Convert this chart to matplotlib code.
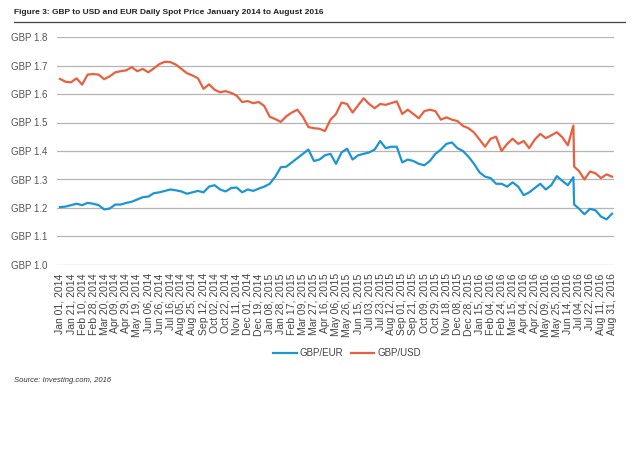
import numpy as np
import matplotlib
matplotlib.use("Agg")
import matplotlib.pyplot as plt

# category labels on the x axis (one every 14 trading days)
tick_labels = [
    "Jan 01, 2014", "Jan 21, 2014", "Feb 10, 2014", "Feb 28, 2014", "Mar 20, 2014",
    "Apr 09, 2014", "Apr 29, 2014", "May 19, 2014", "Jun 06, 2014", "Jun 26, 2014",
    "Jul 16, 2014", "Aug 05, 2014", "Aug 25, 2014", "Sep 12, 2014", "Oct 02, 2014",
    "Oct 22, 2014", "Nov 11, 2014", "Dec 01, 2014", "Dec 19, 2014", "Jan 08, 2015",
    "Jan 28, 2015", "Feb 17, 2015", "Mar 09, 2015", "Mar 27, 2015", "Apr 16, 2015",
    "May 06, 2015", "May 26, 2015", "Jun 15, 2015", "Jul 03, 2015", "Jul 23, 2015",
    "Aug 12, 2015", "Sep 01, 2015", "Sep 21, 2015", "Oct 09, 2015", "Oct 29, 2015",
    "Nov 18, 2015", "Dec 08, 2015", "Dec 28, 2015", "Jan 15, 2016", "Feb 04, 2016",
    "Feb 24, 2016", "Mar 15, 2016", "Apr 04, 2016", "Apr 22, 2016", "May 09, 2016",
    "May 25, 2016", "Jun 14, 2016", "Jul 04, 2016", "Jul 22, 2016", "Aug 11, 2016",
    "Aug 31, 2016",
]
tick_step = 14

# trading-day index of each sampled reading (weekly, plus the day after the vote)
day_idx = np.r_[np.arange(0, 652, 7), 652, np.arange(658, 701, 7)]

gbp_usd = [
    1.653, 1.643, 1.641, 1.655, 1.633, 1.668, 1.670, 1.668, 1.652, 1.662,
    1.676, 1.680, 1.683, 1.694, 1.680, 1.688, 1.676, 1.690, 1.705, 1.713,
    1.712, 1.703, 1.688, 1.673, 1.665, 1.655, 1.618, 1.634, 1.615, 1.606,
    1.610, 1.604, 1.594, 1.572, 1.575, 1.568, 1.572, 1.558, 1.520, 1.512,
    1.502, 1.522, 1.535, 1.545, 1.520, 1.484, 1.480, 1.478, 1.470, 1.510,
    1.530, 1.570, 1.565, 1.535, 1.560, 1.585, 1.565, 1.550, 1.565, 1.562,
    1.568, 1.574, 1.530, 1.545, 1.530, 1.515, 1.540, 1.545, 1.540, 1.510,
    1.518, 1.510, 1.505, 1.488, 1.480, 1.465, 1.440, 1.415, 1.443, 1.450,
    1.400, 1.425, 1.443, 1.425, 1.435, 1.410, 1.440, 1.460, 1.445, 1.455,
    1.466, 1.448, 1.420, 1.489,
    1.345,
    1.330, 1.300, 1.328, 1.322, 1.305, 1.318, 1.310,
]

gbp_eur = [
    1.203, 1.205, 1.210, 1.215, 1.210, 1.218, 1.215, 1.210, 1.195, 1.198,
    1.212, 1.212, 1.218, 1.222, 1.230, 1.238, 1.240, 1.252, 1.255, 1.260,
    1.265, 1.262, 1.258, 1.250, 1.255, 1.260, 1.255, 1.275, 1.280, 1.265,
    1.258, 1.270, 1.272, 1.255, 1.265, 1.260, 1.268, 1.275, 1.285, 1.310,
    1.343, 1.345, 1.360, 1.375, 1.390, 1.405, 1.365, 1.370, 1.385, 1.390,
    1.355, 1.395, 1.408, 1.370, 1.385, 1.390, 1.395, 1.405, 1.435, 1.410,
    1.415, 1.415, 1.360, 1.370, 1.365, 1.355, 1.350, 1.365, 1.390, 1.405,
    1.425, 1.430, 1.410, 1.400, 1.380, 1.355, 1.325, 1.310, 1.305, 1.285,
    1.285, 1.275, 1.290, 1.275, 1.245, 1.255, 1.270, 1.285, 1.265, 1.280,
    1.312, 1.295, 1.280, 1.308,
    1.212,
    1.198, 1.178, 1.197, 1.192, 1.170, 1.160, 1.180,
]

y_ticks = [1.0, 1.1, 1.2, 1.3, 1.4, 1.5, 1.6, 1.7, 1.8]

blue = "#1b95d3"
orange = "#e9603f"
W, H = 640, 449

plt.rcParams["font.family"] = ["Liberation Sans", "DejaVu Sans"]

fig = plt.figure(figsize=(W / 100, H / 100), dpi=100)
ax = fig.add_axes([57 / W, 1 - 265 / H, (614 - 57) / W, (265 - 37) / H])

ax.plot(day_idx, gbp_eur, color=blue, lw=1.6, label="GBP/EUR")
ax.plot(day_idx, gbp_usd, color=orange, lw=1.6, label="GBP/USD")

ax.set_ylim(1.0, 1.8)
ax.set_xlim(-3.8, 702.5)
ax.set_yticks(y_ticks)
ax.set_yticklabels(["GBP %.1f" % v for v in y_ticks], color="#555555", fontsize=7)
ax.set_xticks(np.arange(len(tick_labels)) * tick_step)
ax.set_xticklabels(tick_labels, rotation=90, fontsize=7.5, color="#444444")
ax.tick_params(length=0, pad=6)
ax.tick_params(axis="y", pad=7)
ax.grid(axis="y", color="#b4b4b4", lw=0.9)
ax.set_axisbelow(True)
for s in ax.spines.values():
    s.set_visible(False)

leg = fig.legend(loc="center", bbox_to_anchor=(347 / W, 1 - 353 / H), ncol=2,
                 frameon=False, fontsize=7, handlelength=2.4, columnspacing=0.8,
                 handletextpad=0.3)
for t in leg.get_texts():
    t.set_color("#444444")

fig.text(14 / W, 1 - 12 / H, "Figure 3: GBP to USD and EUR Daily Spot Price January 2014 to August 2016",
         fontsize=6, fontweight="bold", color="#222222", va="center", ha="left")
fig.add_artist(plt.Line2D([14 / W, 625 / W], [1 - 22 / H, 1 - 22 / H], color="#444444", lw=0.9))
fig.text(14 / W, 1 - 380 / H, "Source: Investing.com, 2016", fontsize=5.5, style="italic",
         color="#333333", va="center", ha="left")

fig.savefig("out.png", dpi=100)
